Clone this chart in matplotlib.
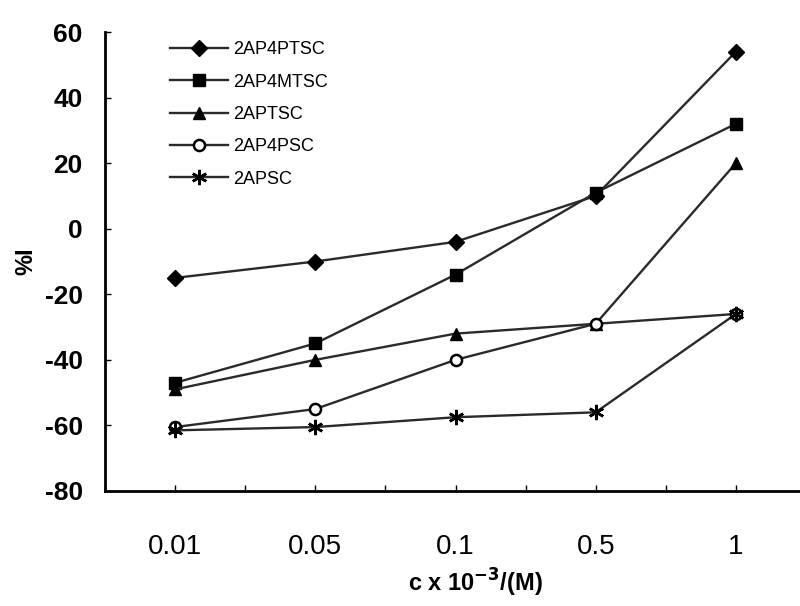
import matplotlib
matplotlib.use("Agg")
import matplotlib.pyplot as plt
import numpy as np

categories = ["0.01", "0.05", "0.1", "0.5", "1"]
s_2AP4PTSC = [-15, -10, -4, 10, 54]
s_2AP4MTSC = [-47, -35, -14, 11, 32]
s_2APTSC = [-49, -40, -32, -29, 20]
s_2AP4PSC = [-60.5, -55, -40, -29, -26]
s_2APSC = [-61.5, -60.5, -57.5, -56, -26]
series_names = ["2AP4PTSC", "2AP4MTSC", "2APTSC", "2AP4PSC", "2APSC"]
y_ticks = [-80, -60, -40, -20, 0, 20, 40, 60]

plt.rcParams['font.family'] = ['Liberation Sans', 'DejaVu Sans']

fig = plt.figure(figsize=(8, 6.06), dpi=100)
ax = fig.add_axes([105/800, 1-491/606, 701/800, (491-32)/606])

x = np.arange(len(categories))
styles = [
    dict(marker='D', markersize=8, markerfacecolor='black'),
    dict(marker='s', markersize=8, markerfacecolor='black'),
    dict(marker='^', markersize=9, markerfacecolor='black'),
    dict(marker='o', markersize=8, markerfacecolor='white', markeredgewidth=1.8),
    dict(marker=(6, 2, 0), markersize=11, markeredgewidth=1.8),
]
data = [s_2AP4PTSC, s_2AP4MTSC, s_2APTSC, s_2AP4PSC, s_2APSC]
for name, vals, st in zip(series_names, data, styles):
    ax.plot(x, vals, color='#2a2a2a', lw=1.7, markeredgecolor='black', label=name, **st)

ax.set_xlim(-0.5, 4.5)
ax.set_ylim(-80, 60)
ax.set_xticks(x)
ax.set_xticklabels(categories, fontsize=20)
ax.set_xticks(np.arange(-0.5, 4.6, 0.5), minor=True)
ax.set_yticks(y_ticks)
ax.set_yticklabels([str(v) for v in y_ticks], fontsize=19, fontweight='bold')
ax.tick_params(axis='both', which='both', direction='in', length=4, width=1)
ax.tick_params(axis='x', which='major', pad=31)
ax.tick_params(axis='y', which='major', pad=16)
ax.spines['top'].set_visible(False)
ax.spines['right'].set_visible(False)
ax.spines['left'].set_linewidth(2)
ax.spines['bottom'].set_linewidth(2)

ax.set_xlabel(r"c x 10$^{\mathbf{-3}}$/(M)", fontsize=17, fontweight='bold')
ax.xaxis.set_label_coords(0.528, -0.165)
ax.set_ylabel("%I", fontsize=17, fontweight='bold')
ax.yaxis.set_label_coords(-0.097, 0.5)

leg = ax.legend(loc='upper left', bbox_to_anchor=(0.07, 1.015), frameon=False,
                fontsize=13, handlelength=3.2, handletextpad=0.3, labelspacing=0.85)

fig.savefig("out.png", dpi=100)
